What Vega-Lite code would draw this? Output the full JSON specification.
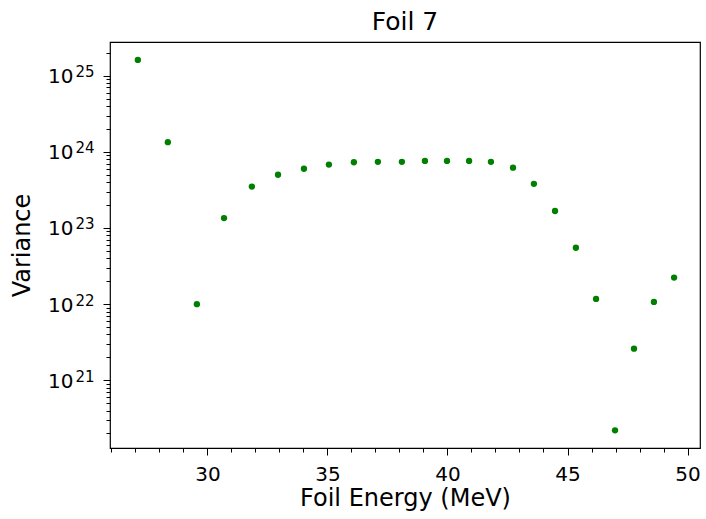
{
  "$schema": "https://vega.github.io/schema/vega-lite/v6.json",
  "width": 590,
  "height": 406,
  "autosize": "none",
  "padding": {"left": 110, "top": 42, "right": 6, "bottom": 71},
  "background": "white",
  "title": {"text": "Foil 7", "font": "DejaVu Sans", "fontSize": 25, "fontWeight": "normal", "color": "black", "offset": 7},
  "config": {
    "view": {"stroke": "black", "strokeWidth": 1.2},
    "axis": {"labelFont": "DejaVu Sans", "titleFont": "DejaVu Sans", "labelColor": "black", "titleColor": "black", "tickColor": "black", "domain": false, "grid": false, "titleFontWeight": "normal", "labelOverlap": false, "tickWidth": 1}
  },
  "data": {"values": [
    {"energy": 27.10, "variance": 1.61e25},
    {"energy": 28.35, "variance": 1.34e24},
    {"energy": 29.56, "variance": 1.0e22},
    {"energy": 30.69, "variance": 1.35e23},
    {"energy": 31.85, "variance": 3.5e23},
    {"energy": 32.94, "variance": 5.0e23},
    {"energy": 34.02, "variance": 6.0e23},
    {"energy": 35.06, "variance": 6.8e23},
    {"energy": 36.10, "variance": 7.3e23},
    {"energy": 37.10, "variance": 7.4e23},
    {"energy": 38.10, "variance": 7.4e23},
    {"energy": 39.06, "variance": 7.6e23},
    {"energy": 39.98, "variance": 7.6e23},
    {"energy": 40.90, "variance": 7.6e23},
    {"energy": 41.81, "variance": 7.4e23},
    {"energy": 42.73, "variance": 6.2e23},
    {"energy": 43.60, "variance": 3.8e23},
    {"energy": 44.48, "variance": 1.67e23},
    {"energy": 45.35, "variance": 5.5e22},
    {"energy": 46.19, "variance": 1.17e22},
    {"energy": 46.98, "variance": 2.2e20},
    {"energy": 47.77, "variance": 2.6e21},
    {"energy": 48.60, "variance": 1.07e22},
    {"energy": 49.44, "variance": 2.23e22}
  ]},
  "resolve": {"axis": {"y": "independent", "x": "independent"}},
  "layer": [
    {
      "mark": {"type": "point", "filled": true, "color": "#008000", "size": 40, "opacity": 1},
      "encoding": {
        "x": {
          "field": "energy", "type": "quantitative",
          "scale": {"domain": [25.94, 50.52], "nice": false, "zero": false},
          "axis": {
            "orient": "bottom",
            "title": "Foil Energy (MeV)", "titleFontSize": 24, "titlePadding": 2,
            "labelFontSize": 20, "labelPadding": 9, "labelFlush": false, "labelOverlap": false,
            "values": [26,27,28,29,30,31,32,33,34,35,36,37,38,39,40,41,42,43,44,45,46,47,48,49,50],
            "labelExpr": "datum.value % 5 == 0 ? format(datum.value, 'd') : ''",
            "tickSize": {"condition": {"test": "datum.value % 5 == 0", "value": 7}, "value": 4}
          }
        },
        "y": {
          "field": "variance", "type": "quantitative",
          "scale": {"type": "log", "domain": [1.29e20, 2.77e25], "nice": false},
          "axis": {
            "orient": "left",
            "title": "Variance", "titleFontSize": 24, "titlePadding": 13,
            "labelFontSize": 20, "labelPadding": 30, "labelOffset": 1,
            "values": [2e20,3e20,4e20,5e20,6e20,7e20,8e20,9e20,1e21,2e21,3e21,4e21,5e21,6e21,7e21,8e21,9e21,1e22,2e22,3e22,4e22,5e22,6e22,7e22,8e22,9e22,1e23,2e23,3e23,4e23,5e23,6e23,7e23,8e23,9e23,1e24,2e24,3e24,4e24,5e24,6e24,7e24,8e24,9e24,1e25,2e25],
            "labelExpr": "abs(log(datum.value)/LN10 - round(log(datum.value)/LN10)) < 0.001 ? '10' : ''",
            "tickSize": {"condition": {"test": "abs(log(datum.value)/LN10 - round(log(datum.value)/LN10)) < 0.001", "value": 7}, "value": 4}
          }
        }
      }
    },
    {
      "mark": {"type": "point", "filled": true, "color": "#008000", "size": 40, "opacity": 0},
      "encoding": {
        "x": {"field": "energy", "type": "quantitative", "axis": null},
        "y": {
          "field": "variance", "type": "quantitative",
          "axis": {
            "orient": "left",
            "title": null, "ticks": false,
            "labelFontSize": 15, "labelPadding": 16, "labelOffset": -4,
            "values": [1e21, 1e22, 1e23, 1e24, 1e25],
            "labelExpr": "'' + round(log(datum.value)/LN10)"
          }
        }
      }
    }
  ]
}
